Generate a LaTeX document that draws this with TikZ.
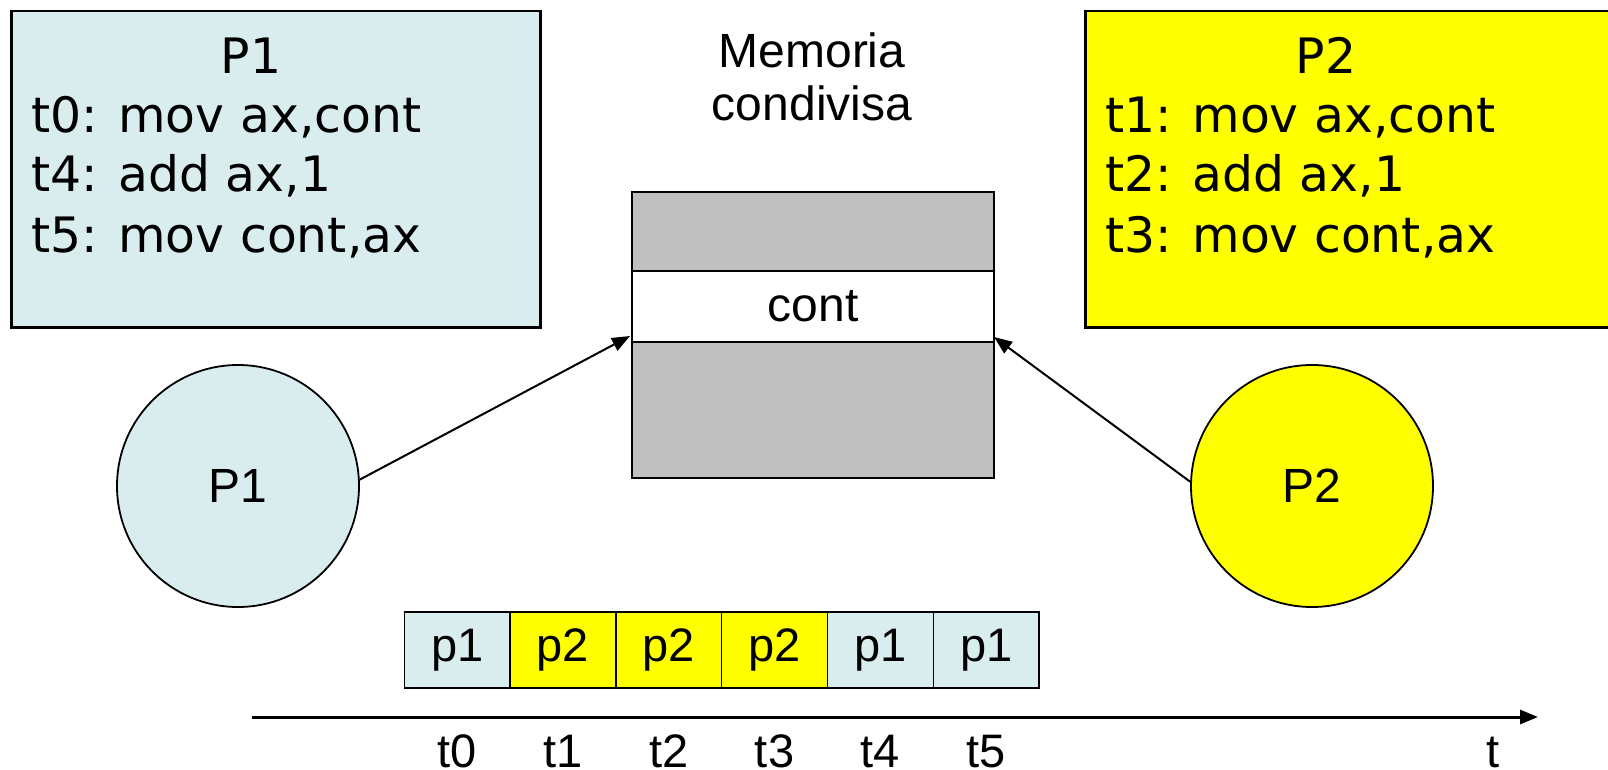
\documentclass[tikz,border=0pt]{standalone}
\usepackage{fontspec}
\setmainfont{Liberation Sans}
\newfontfamily\verd{DejaVu Sans}
\usetikzlibrary{arrows.meta}
\definecolor{lcyan}{HTML}{DAEDEE}
\definecolor{memgray}{HTML}{C0C0C0}
\definecolor{pyellow}{HTML}{FFFF00}
\tikzset{
  codebox/.style={draw=black, line width=2.5pt, rectangle, anchor=north west, inner sep=0pt},
  codetxt/.style={anchor=base west, inner sep=0pt, font=\verd\fontsize{48.8}{58}\selectfont},
  codettl/.style={anchor=base, inner sep=0pt, font=\verd\fontsize{48.8}{58}\selectfont},
  memcell/.style={draw=black, line width=2pt, rectangle, anchor=north west, inner sep=0pt, minimum width=362pt},
  proc/.style={draw=black, line width=1.8pt, circle, minimum size=242pt, inner sep=0pt, font=\fontsize{48}{57}\selectfont},
  slot/.style={draw=black, line width=1.5pt, rectangle, anchor=north west, inner sep=0pt, minimum width=105.8pt, minimum height=76pt, font=\fontsize{47}{56}\selectfont},
  lbl/.style={anchor=base, inner sep=0pt, font=\fontsize{47}{56}\selectfont},
  arr/.style={line width=2pt, -{Triangle[length=18pt,width=14pt]}},
  axisline/.style={line width=3pt, -{Triangle[length=18pt,width=14pt]}}
}
\begin{document}
\begin{tikzpicture}[x=1pt,y=-1pt]
\useasboundingbox (0,0) rectangle (1608,770);
% code boxes
\node[codebox, fill=lcyan, minimum width=529pt, minimum height=316pt] (box1) at (10,10) {};
\node[codettl] (b1t) at (251,74) {P1};
\node[codetxt] (b1l1) at (31,133) {t0: mov ax,cont};
\node[codetxt] (b1l2) at (31,192) {t4: add ax,1};
\node[codetxt] (b1l3) at (31,252) {t5: mov cont,ax};
\node[codebox, fill=pyellow, minimum width=530pt, minimum height=316pt] (box2) at (1084,10) {};
\node[codettl] (b2t) at (1326,74) {P2};
\node[codetxt] (b2l1) at (1105,133) {t1: mov ax,cont};
\node[codetxt] (b2l2) at (1105,192) {t2: add ax,1};
\node[codetxt] (b2l3) at (1105,252) {t3: mov cont,ax};
% shared memory
\node[lbl, font=\fontsize{48}{57}\selectfont] (memt1) at (812,68) {Memoria};
\node[lbl, font=\fontsize{48}{57}\selectfont] (memt2) at (812,121) {condivisa};
\node[memcell, fill=memgray, minimum height=286pt] (mem) at (631,191) {};
\node[memcell, fill=white, minimum height=71pt, font=\fontsize{48}{57}\selectfont] (band) at (631,270) {cont};
% processes
\node[proc, fill=lcyan] (c1) at (238,486) {P1};
\node[proc, fill=pyellow] (c2) at (1312,486) {P2};
\coordinate (tipL) at (630,336);
\coordinate (tipR) at (994,337);
\draw[arr] (c1.3) -- (tipL);
\draw[arr] (c2.178) -- (tipR);
% timeline
\node[slot, fill=lcyan]   (s1) at (403.5,611) {p1};
\node[slot, fill=pyellow] (s2) at (509.3,611) {p2};
\node[slot, fill=pyellow] (s3) at (615.1,611) {p2};
\node[slot, fill=pyellow] (s4) at (720.9,611) {p2};
\node[slot, fill=lcyan]   (s5) at (826.7,611) {p1};
\node[slot, fill=lcyan]   (s6) at (932.5,611) {p1};
\coordinate (ax0) at (252,717);
\coordinate (ax1) at (1538,717);
\draw[axisline] (ax0) -- (ax1);
\foreach \i/\t in {1/t0,2/t1,3/t2,4/t3,5/t4,6/t5} {
  \node[lbl] (l\i) at (s\i.south |- 0,767) {\t};
}
\node[lbl] (lt) at (1493,767) {t};
\end{tikzpicture}
\end{document}
